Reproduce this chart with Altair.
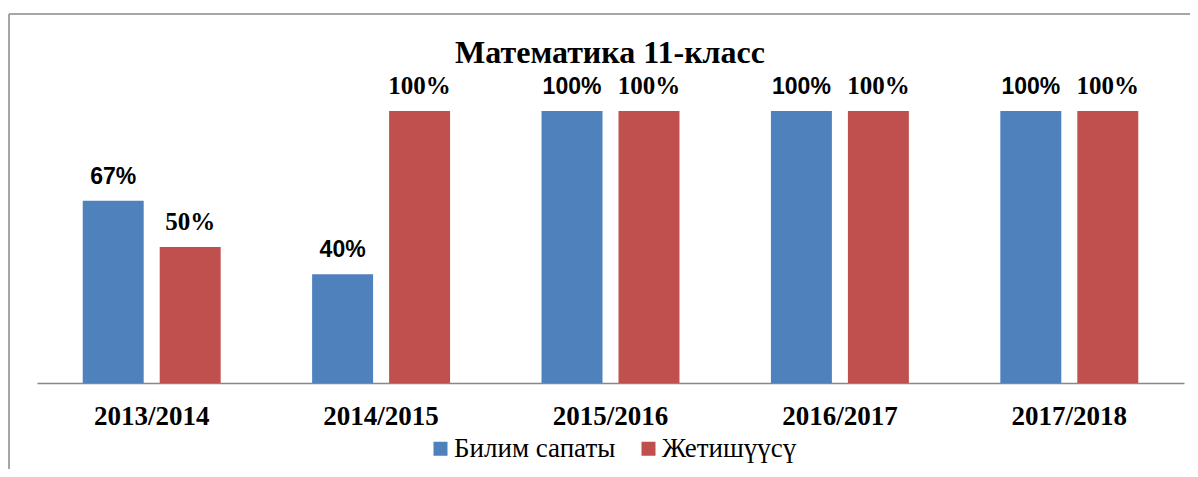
import altair as alt
import pandas as pd

years = ["2013/2014", "2014/2015", "2015/2016", "2016/2017", "2017/2018"]
series = ["Билим сапаты", "Жетишүүсү"]
bilim = [67, 40, 100, 100, 100]
zhet = [50, 100, 100, 100, 100]
colors = ["#4F81BD", "#C0504D"]
title_text = "Математика 11-класс"

rows = []
for i, y in enumerate(years):
    rows.append({"year": y, "series": series[0], "value": bilim[i], "label": f"{bilim[i]}%"})
    rows.append({"year": y, "series": series[1], "value": zhet[i], "label": f"{zhet[i]}%"})
df = pd.DataFrame(rows)

base = alt.Chart(df).encode(
    x=alt.X(
        "year:N",
        sort=years,
        scale=alt.Scale(paddingInner=0, paddingOuter=0),
        axis=alt.Axis(
            title=None,
            labelFont="Liberation Serif",
            labelFontWeight="bold",
            labelFontSize=27,
            labelColor="black",
            labelAngle=0,
            labelBaseline="alphabetic",
            labelPadding=41,
            ticks=False,
            tickSize=0,
            domainColor="#888888",
            domainWidth=1.5,
            grid=False,
        ),
    ),
    xOffset=alt.XOffset(
        "series:N", sort=series, scale=alt.Scale(paddingInner=0.208, paddingOuter=0.594)
    ),
    y=alt.Y("value:Q", scale=alt.Scale(domain=[0, 100]), axis=None),
)

bars = base.mark_bar().encode(
    color=alt.Color(
        "series:N",
        sort=series,
        scale=alt.Scale(domain=series, range=colors),
        legend=alt.Legend(
            title=None,
            orient="none",
            legendX=390,
            legendY=324,
            direction="horizontal",
            symbolType="square",
            symbolSize=196,
            symbolStrokeWidth=0,
            labelFont="Liberation Serif",
            labelFontSize=27,
            labelColor="black",
            labelOffset=0,
            labelLimit=400,
            columnPadding=19,
            padding=0,
        ),
    )
)

text_blue = base.transform_filter(alt.datum.series == series[0]).mark_text(
    font="Liberation Sans", fontWeight="bold", fontSize=23, baseline="alphabetic", dy=-17, color="black"
).encode(text="label:N")

text_red = base.transform_filter(alt.datum.series == series[1]).mark_text(
    font="Liberation Serif", fontWeight="bold", fontSize=25, baseline="alphabetic", dy=-17, color="black"
).encode(text="label:N")

frame = alt.Chart(alt.Data(values=[{"t": title_text}]))
left_border = frame.mark_rule(color="#888888", strokeWidth=1.5, clip=False).encode(
    x=alt.value(-28), y=alt.value(-97), y2=alt.value(366)
)
top_border = frame.mark_rule(color="#888888", strokeWidth=1.5, clip=False).encode(
    x=alt.value(-28), x2=alt.value(1153), y=alt.value(-97)
)
title = frame.mark_text(
    font="Liberation Serif", fontSize=32, fontWeight="bold", color="black",
    align="center", baseline="alphabetic", clip=False
).encode(x=alt.value(573), y=alt.value(-48), text="t:N")

chart = (
    alt.layer(left_border, top_border, bars, text_blue, text_red, title)
    .properties(
        width=1147,
        height=272,
        background="white",
        autosize=alt.AutoSizeParams(type="none"),
        padding={"left": 29, "top": 103, "right": 6, "bottom": 86},
    )
    .configure_view(stroke="transparent", strokeWidth=0)
)

chart.save("out.html", embed_options={"renderer": "svg", "actions": False})
